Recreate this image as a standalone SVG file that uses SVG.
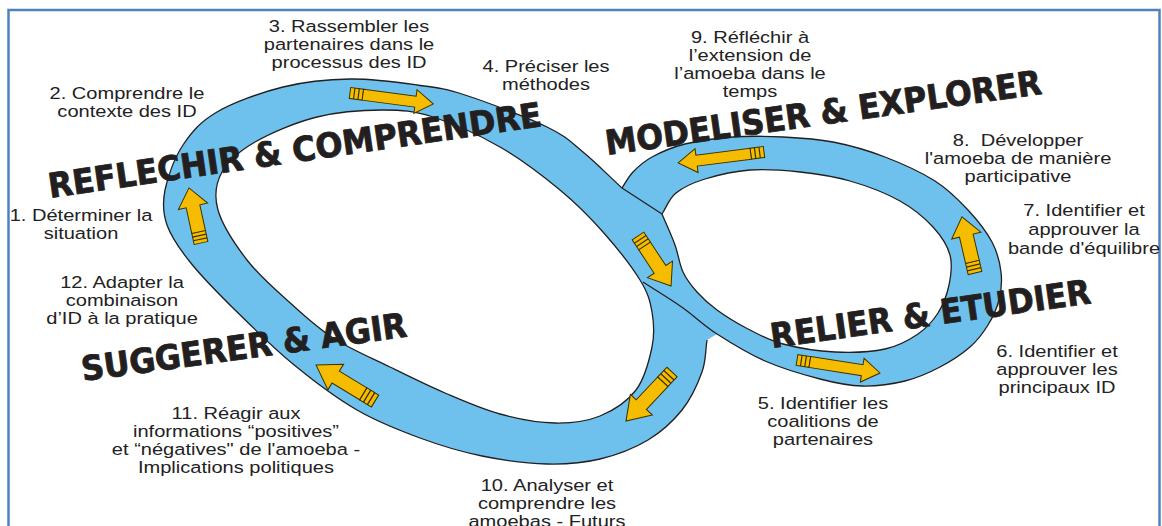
<svg xmlns="http://www.w3.org/2000/svg" width="1162" height="526" viewBox="0 0 1162 526">
<style>
.band{fill:#6EC1EC;fill-rule:evenodd;stroke:none}
.edge{fill:none;stroke:#231F20;stroke-width:1.3;stroke-linejoin:round}
.ay{fill:#F6BD00;stroke:#3D3300;stroke-width:1}
.al{fill:none;stroke:#3D3300;stroke-width:1.2}
.hd{font-family:'DejaVu Sans Condensed','DejaVu Sans','Liberation Sans',sans-serif;font-weight:bold;font-size:34px;fill:#231F20;stroke:#231F20;stroke-width:0.8;stroke-linejoin:round}
.lb{font-family:'Liberation Sans',Arial,sans-serif;font-size:17px;fill:#222;text-anchor:middle}
</style>
<defs>
<g id="arrS">
<rect x="0" y="-5.5" width="13" height="11" class="ay"/>
<path d="M4.3,-5.5V5.5M8.7,-5.5V5.5" class="al"/>
<path d="M13,-5.5H66V-12L84,0L66,12V5.5H13Z" class="ay"/>
</g>
<g id="arrL">
<rect x="0" y="-7" width="12" height="14" class="ay"/>
<path d="M4,-7V7M8,-7V7" class="al"/>
<path d="M12,-7H40V-15L60,0L40,15V7H12Z" class="ay"/>
</g>
</defs>
<rect x="0" y="0" width="1162" height="526" fill="#fff"/>
<path d="M8.5,530V10H1159.5V530" fill="none" stroke="#4F81BD" stroke-width="2.5"/>
<g id="connectors">
<path class="band" d="M707,340 C705.3,350.7 706.2,360.3 702,372 S691,398.7 682,410 S661.7,431.8 648,440 S616.8,455 600,459 S566.7,464.5 547,464 S503.2,460.3 482,456 S440.8,445.7 420,438 S378.2,422.3 357,410 S313.3,380.7 293,364 S252.2,327 235,310 S201.3,276.2 190,262 S171.2,237 167,225 S162.3,203.3 165,190 S174.3,158 183,145 S200.3,121.7 217,112 S260.8,92.5 283,87 S327.7,79.3 350,79 S397.8,82.3 417,85 S443.3,88 465,95 S527.3,117.5 547,127 S570.5,141.8 583,152 S609,176 622,188 C625.7,182.7 628,177.2 633,172 S643.3,161.7 652,157 S671.5,147.3 685,144 S716.7,138.2 733,137 S766.3,136.2 783,137 S816,138.7 833,142 S868,150.5 885,157 S921.2,172.2 935,181 S958.5,199.8 968,210 S986.5,231.7 992,242 S999.8,262.3 1001,272 S1001.2,291.2 999,300 S992.8,317.2 988,325 S978,340 970,347 S950.8,361.3 940,367 S918,377.8 905,381 S876.2,386.3 862,386 S836.2,383.2 820,379 S782.2,368.5 765,361 S730.7,342.8 717,334 Z M662,214 C666.7,207 668.8,198.8 676,193 S692.7,182.8 705,179 S734.2,171.2 750,170 S783.3,170.2 800,172 S833.3,176.2 850,181 S886.2,193.3 900,201 S924.7,218 933,227 S947.3,245.3 950,255 S951,275.3 949,285 S943.2,304.8 938,313 S926.8,328 918,334 S898.8,346 885,349 S852,352.8 835,352 S797.5,347.8 783,344 S759,334.7 748,329 S725.5,316.2 717,310 S702.7,298.3 697,292 S686.7,279.8 683,272 S678.5,254.7 675,245 S666.3,224.3 662,214 Z M247,260 C235.3,244.8 222.2,224.7 218,210 S215.8,183.3 222,172 S239.2,151.2 255,142 S295.7,122.3 317,117 S363.7,110 383,110 S413.5,110.8 433,117 S478.8,134.8 500,147 S542.8,175.8 560,190 S589.7,217 603,232 S631.8,266.7 640,280 S650,300.8 652,312 S654.7,334 652,347 S644.7,378.5 636,390 S613.5,410.5 600,416 S571.7,423.3 555,423 S518.3,419 500,414 S463.3,400.8 445,393 S408.7,376.2 390,367 S350,349 333,338 S302.3,314 288,301 S258.7,275.2 247,260 Z"/>
<path class="edge" d="M707,340 C705.3,350.7 706.2,360.3 702,372 S691,398.7 682,410 S661.7,431.8 648,440 S616.8,455 600,459 S566.7,464.5 547,464 S503.2,460.3 482,456 S440.8,445.7 420,438 S378.2,422.3 357,410 S313.3,380.7 293,364 S252.2,327 235,310 S201.3,276.2 190,262 S171.2,237 167,225 S162.3,203.3 165,190 S174.3,158 183,145 S200.3,121.7 217,112 S260.8,92.5 283,87 S327.7,79.3 350,79 S397.8,82.3 417,85 S443.3,88 465,95 S527.3,117.5 547,127 S570.5,141.8 583,152 S609,176 622,188 L662,214"/>
<path class="edge" d="M622,188 C625.7,182.7 628,177.2 633,172 S643.3,161.7 652,157 S671.5,147.3 685,144 S716.7,138.2 733,137 S766.3,136.2 783,137 S816,138.7 833,142 S868,150.5 885,157 S921.2,172.2 935,181 S958.5,199.8 968,210 S986.5,231.7 992,242 S999.8,262.3 1001,272 S1001.2,291.2 999,300 S992.8,317.2 988,325 S978,340 970,347 S950.8,361.3 940,367 S918,377.8 905,381 S876.2,386.3 862,386 S836.2,383.2 820,379 S782.2,368.5 765,361 S730.7,342.8 717,334 S695.3,316.7 683,308 S656.3,290.7 643,282"/>
<path class="edge" d="M662,214 C666.7,207 668.8,198.8 676,193 S692.7,182.8 705,179 S734.2,171.2 750,170 S783.3,170.2 800,172 S833.3,176.2 850,181 S886.2,193.3 900,201 S924.7,218 933,227 S947.3,245.3 950,255 S951,275.3 949,285 S943.2,304.8 938,313 S926.8,328 918,334 S898.8,346 885,349 S852,352.8 835,352 S797.5,347.8 783,344 S759,334.7 748,329 S725.5,316.2 717,310 S702.7,298.3 697,292 S686.7,279.8 683,272 S678.5,254.7 675,245 S666.3,224.3 662,214 Z"/>
<path class="edge" d="M247,260 C235.3,244.8 222.2,224.7 218,210 S215.8,183.3 222,172 S239.2,151.2 255,142 S295.7,122.3 317,117 S363.7,110 383,110 S413.5,110.8 433,117 S478.8,134.8 500,147 S542.8,175.8 560,190 S589.7,217 603,232 S631.8,266.7 640,280 S650,300.8 652,312 S654.7,334 652,347 S644.7,378.5 636,390 S613.5,410.5 600,416 S571.7,423.3 555,423 S518.3,419 500,414 S463.3,400.8 445,393 S408.7,376.2 390,367 S350,349 333,338 S302.3,314 288,301 S258.7,275.2 247,260 Z"/>
<use href="#arrL" transform="translate(201,243) rotate(-102.3) scale(0.94,1)"/>
<use href="#arrS" transform="translate(350,93) rotate(7.5)"/>
<use href="#arrL" transform="translate(638,236) rotate(56.6)"/>
<use href="#arrS" transform="translate(797,360) rotate(8.9)"/>
<use href="#arrL" transform="translate(975,273) rotate(-103.1) scale(0.96,1)"/>
<use href="#arrS" transform="translate(764,152) rotate(172.7) scale(1.03,1)"/>
<use href="#arrL" transform="translate(672,372) rotate(133.2) scale(1.12,1)"/>
<use href="#arrL" transform="translate(375,401) rotate(-148.6) scale(1.15,1)"/>
</g>
<g id="phases">
<text class="hd" transform="translate(50,198) rotate(-8.3)" textLength="498" lengthAdjust="spacingAndGlyphs">REFLECHIR &amp; COMPRENDRE</text>
<text class="hd" transform="translate(607,155) rotate(-8.0)" textLength="440" lengthAdjust="spacingAndGlyphs">MODELISER &amp; EXPLORER</text>
<text class="hd" transform="translate(772,348) rotate(-8.0)" textLength="323" lengthAdjust="spacingAndGlyphs">RELIER &amp; ETUDIER</text>
<text class="hd" transform="translate(83,381) rotate(-7.8)" textLength="328" lengthAdjust="spacingAndGlyphs">SUGGERER &amp; AGIR</text>
</g>
<g id="step-1"><text class="lb" transform="translate(81,0) scale(1.18,1)"><tspan x="0" y="221">1. Déterminer la</tspan><tspan x="0" y="239">situation</tspan></text></g>
<g id="step-2"><text class="lb" transform="translate(127,0) scale(1.18,1)"><tspan x="0" y="99">2. Comprendre le</tspan><tspan x="0" y="117">contexte des ID</tspan></text></g>
<g id="step-3"><text class="lb" transform="translate(349,0) scale(1.18,1)"><tspan x="0" y="32">3. Rassembler les</tspan><tspan x="0" y="50">partenaires dans le</tspan><tspan x="0" y="68">processus des ID</tspan></text></g>
<g id="step-4"><text class="lb" transform="translate(546,0) scale(1.18,1)"><tspan x="0" y="72">4. Préciser les</tspan><tspan x="0" y="90">méthodes</tspan></text></g>
<g id="step-5"><text class="lb" transform="translate(823,0) scale(1.18,1)"><tspan x="0" y="409">5. Identifier les</tspan><tspan x="0" y="427">coalitions de</tspan><tspan x="0" y="445">partenaires</tspan></text></g>
<g id="step-6"><text class="lb" transform="translate(1057,0) scale(1.18,1)"><tspan x="0" y="357">6. Identifier et</tspan><tspan x="0" y="375">approuver les</tspan><tspan x="0" y="393">principaux ID</tspan></text></g>
<g id="step-7"><text class="lb" transform="translate(1084,0) scale(1.18,1)"><tspan x="0" y="216">7. Identifier et</tspan><tspan x="0" y="235">approuver la</tspan><tspan x="0" y="254">bande d'équilibre</tspan></text></g>
<g id="step-8"><text class="lb" style="white-space:pre" transform="translate(1018,0) scale(1.18,1)"><tspan x="0" y="146">8.  Développer</tspan><tspan x="0" y="164">l'amoeba de manière</tspan><tspan x="0" y="182">participative</tspan></text></g>
<g id="step-9"><text class="lb" transform="translate(750,0) scale(1.18,1)"><tspan x="0" y="43">9. Réfléchir à</tspan><tspan x="0" y="61">l’extension de</tspan><tspan x="0" y="79">l’amoeba dans le</tspan><tspan x="0" y="97">temps</tspan></text></g>
<g id="step-10"><text class="lb" transform="translate(547,0) scale(1.18,1)"><tspan x="0" y="491">10. Analyser et</tspan><tspan x="0" y="509">comprendre les</tspan><tspan x="0" y="527">amoebas - Futurs</tspan></text></g>
<g id="step-11"><text class="lb" transform="translate(236,0) scale(1.18,1)"><tspan x="0" y="419">11. Réagir aux</tspan><tspan x="0" y="437">informations “positives”</tspan><tspan x="0" y="455">et “négatives" de l'amoeba -</tspan><tspan x="0" y="473">Implications politiques</tspan></text></g>
<g id="step-12"><text class="lb" transform="translate(122,0) scale(1.18,1)"><tspan x="0" y="288">12. Adapter la</tspan><tspan x="0" y="306">combinaison</tspan><tspan x="0" y="324">d’ID à la pratique</tspan></text></g>
</svg>
